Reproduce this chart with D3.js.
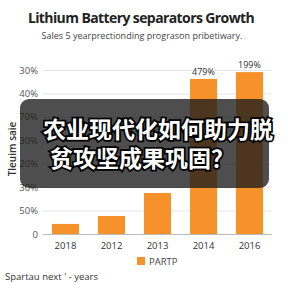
<!DOCTYPE html>
<html>
<head>
<meta charset="utf-8">
<script src="https://cdn.jsdelivr.net/npm/d3@7"></script>
<style>
  html, body { margin: 0; padding: 0; background: #fff; }
  svg { display: block; font-family: "Open Sans", "Noto Sans", sans-serif; }
</style>
</head>
<body>
<script>
// data
const years      = ['2018', '2012', '2013', '2014', '2016'];
const values     = [4.3, 7.7, 17.5, 66.2, 69.1];
const barLabels  = ['', '', '', '479%', '199%'];
const tickValues = [0, 10, 20, 30, 40, 50, 60, 70];
const tickLabels = ['0', '50%', '30%', '20%', '30%', '70%', '40%', '30%'];
const seriesName = 'PARTP';
const captionLines = ['农业现代化如何助力脱', '贫攻坚成果巩固？'];

const W = 288, H = 288;
const orange = '#f7922b';

const svg = d3.select('body').append('svg')
    .attr('width', W)
    .attr('height', H);

// titles
svg.append('text')
    .attr('x', 141).attr('y', 23)
    .attr('text-anchor', 'middle')
    .style('font-size', '14px').style('font-weight', 700).style('fill', '#222')
    .style('letter-spacing', '-0.6px')
    .text('Lithium Battery separators Growth');

svg.append('text')
    .attr('x', 142).attr('y', 39)
    .attr('text-anchor', 'middle')
    .style('font-size', '9px').style('fill', '#444')
    .text('Sales 5 yearprectionding prograson pribetiwary.');

// scales
const x = d3.scaleBand()
    .domain(years)
    .range([42.5, 272.5])
    .paddingInner(0.413)
    .paddingOuter(0.206);

const y = d3.scaleLinear()
    .domain([0, 70])
    .range([234, 70]);

// grid + y tick labels
const yAxis = d3.axisLeft(y)
    .tickValues(tickValues)
    .tickSize(-(272 - 43))
    .tickPadding(5)
    .tickFormat((d, i) => tickLabels[i]);

const gy = svg.append('g')
    .attr('transform', 'translate(43,0)')
    .call(yAxis);
gy.select('.domain').remove();
gy.selectAll('.tick line').attr('stroke', '#e6e6e6');
gy.selectAll('.tick text')
    .style('font-size', '9.5px').style('fill', '#555')
    .style('font-family', '"Open Sans", sans-serif');

// bars
svg.selectAll('.bar')
  .data(values)
  .enter().append('rect')
    .attr('class', 'bar')
    .attr('x', (d, i) => x(years[i]))
    .attr('y', d => y(d))
    .attr('width', x.bandwidth())
    .attr('height', d => y(0) - y(d))
    .attr('fill', orange);

svg.selectAll('.barLabel')
  .data(values)
  .enter().append('text')
    .attr('class', 'barLabel')
    .attr('x', (d, i) => x(years[i]) + x.bandwidth() / 2)
    .attr('y', d => y(d) - 4)
    .attr('text-anchor', 'middle')
    .style('font-size', '9px').style('fill', '#333')
    .text((d, i) => barLabels[i]);

// x axis
const gx = svg.append('g')
    .attr('transform', 'translate(0,234)')
    .call(d3.axisBottom(x).tickSize(0).tickPadding(8));
gx.select('.domain').attr('stroke', '#bbb').attr('d', 'M43,0.5H272');
gx.selectAll('.tick text')
    .style('font-size', '9.5px').style('fill', '#333')
    .style('font-family', '"Open Sans", sans-serif');

// y title
svg.append('text')
    .attr('transform', 'translate(16,149) rotate(-90)')
    .attr('text-anchor', 'middle')
    .style('font-size', '10px').style('font-weight', 600).style('fill', '#333')
    .text('Tleuim saie');

// legend
svg.append('rect')
    .attr('x', 137).attr('y', 257)
    .attr('width', 8).attr('height', 8)
    .attr('fill', orange);
svg.append('text')
    .attr('x', 149).attr('y', 265)
    .style('font-size', '9.5px').style('fill', '#444')
    .text(seriesName);

// footer
svg.append('text')
    .attr('x', 5).attr('y', 280)
    .style('font-size', '9.5px').style('fill', '#333')
    .text("Spartau next ' - years");

// caption overlay
svg.append('rect')
    .attr('x', 20).attr('y', 99)
    .attr('width', 249).attr('height', 89)
    .attr('rx', 9)
    .attr('fill', 'rgba(28,28,28,0.78)');

svg.selectAll('.cap')
  .data(captionLines)
  .enter().append('text')
    .attr('class', 'cap')
    .attr('x', (d, i) => i === 0 ? 43 : 50)
    .attr('y', (d, i) => i === 0 ? 138 : 167)
    .style('font-family', '"Noto Sans CJK SC", sans-serif')
    .style('font-size', '23px').style('font-weight', 700)
    .style('fill', '#fff')
    .style('stroke', '#000').style('stroke-width', 3.5)
    .style('paint-order', 'stroke')
    .text(d => d);
</script>
</body>
</html>
